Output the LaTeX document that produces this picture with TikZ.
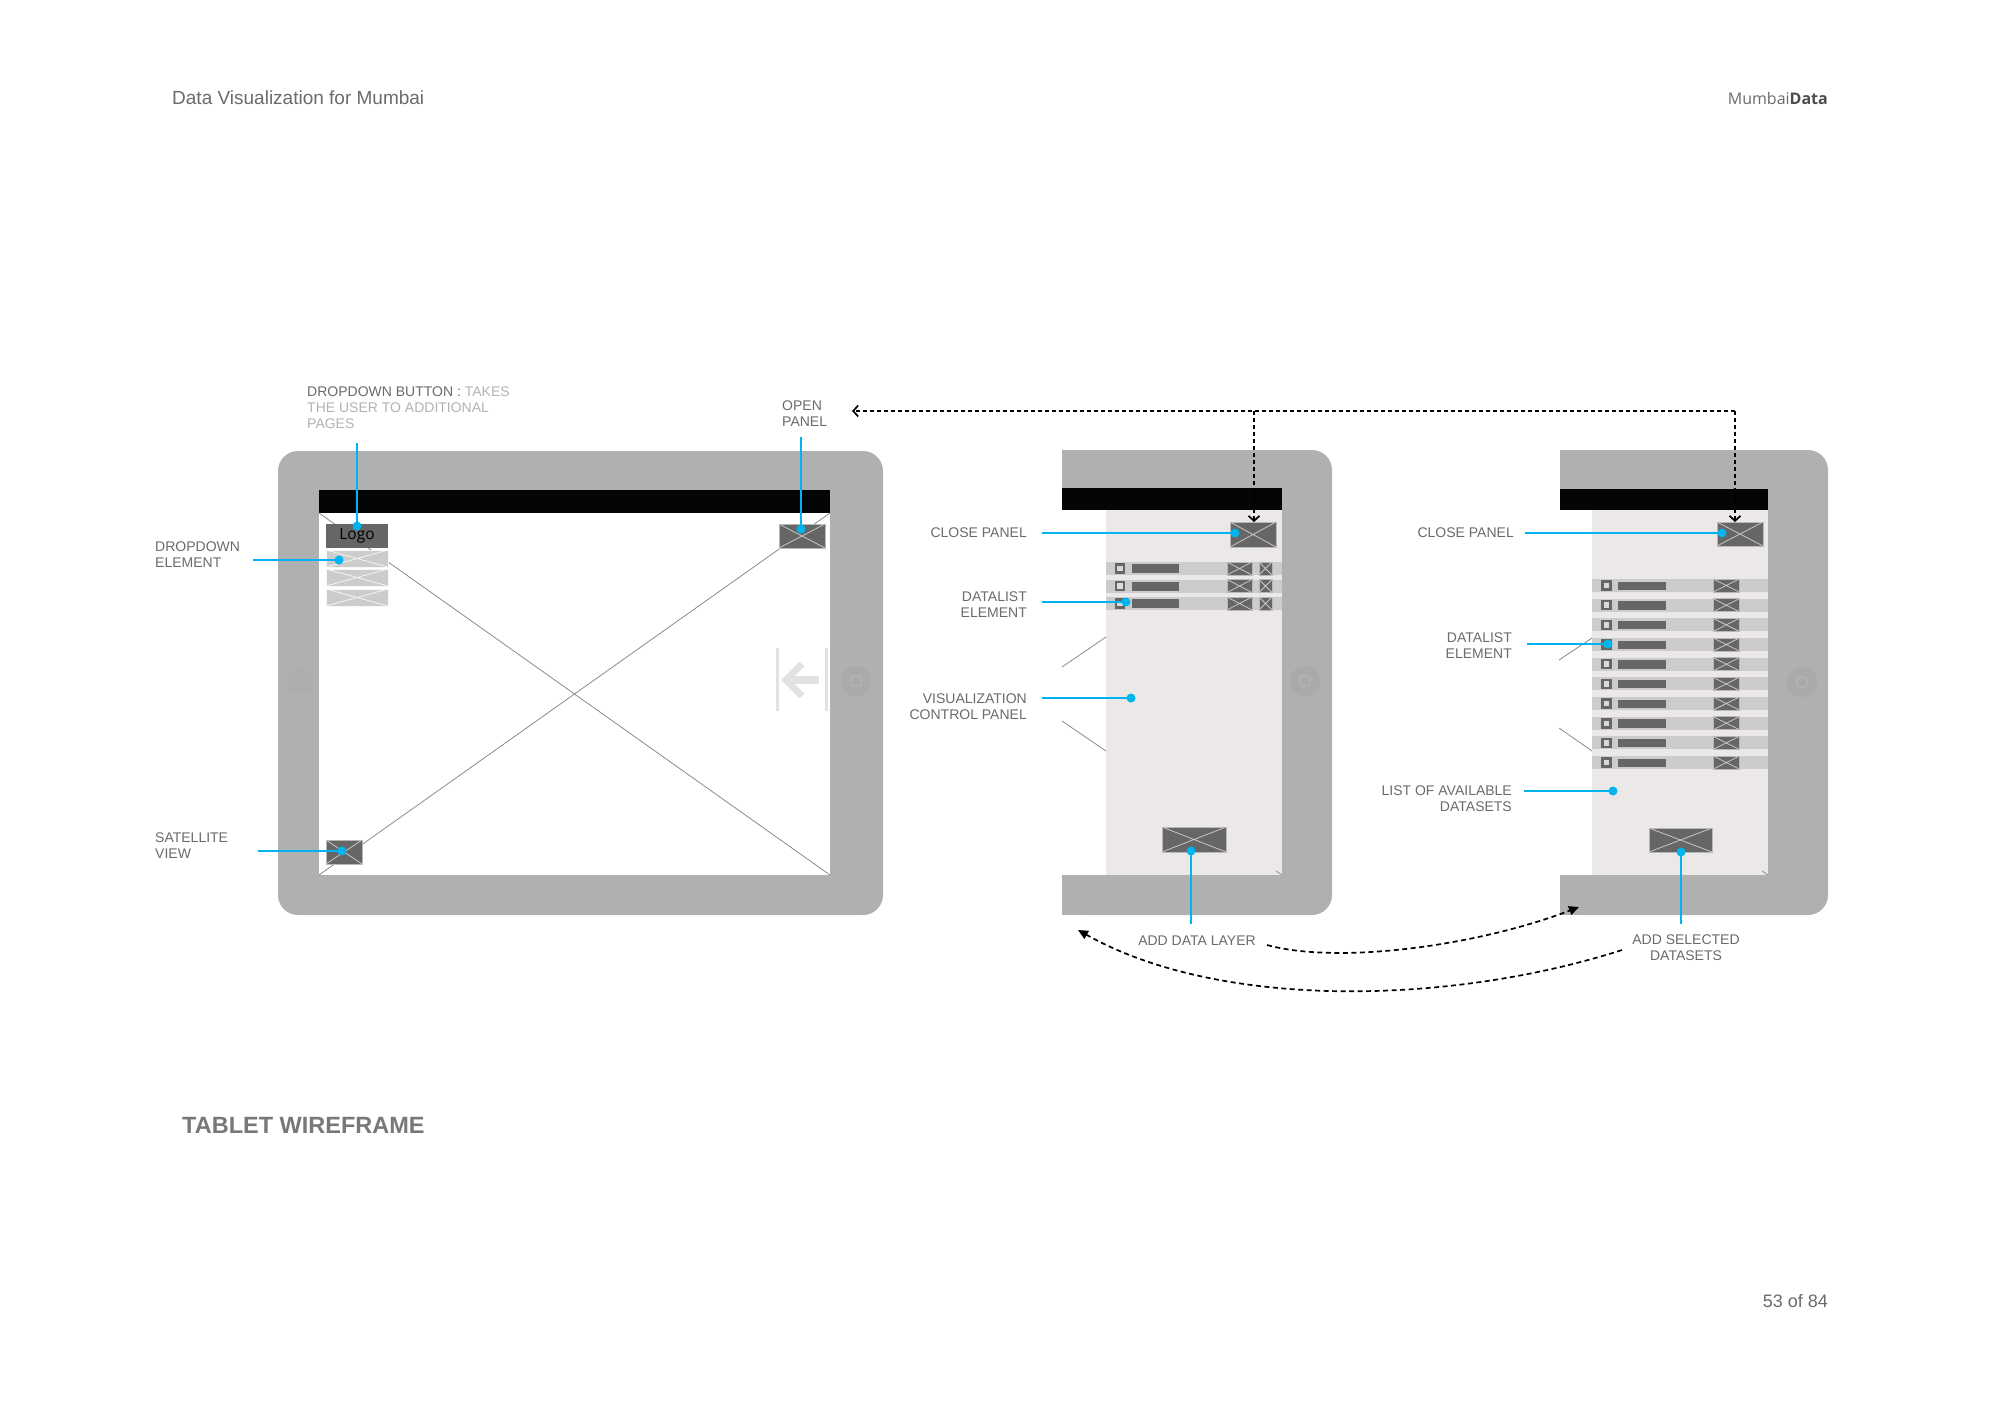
\documentclass[tikz,border=0pt]{standalone}
\usepackage{fontspec}
\setmainfont{Liberation Sans}
\newfontfamily\osans{Open Sans}
\usetikzlibrary{arrows.meta}
\definecolor{tabgray}{HTML}{B0B0B0}
\definecolor{barblack}{HTML}{050505}
\definecolor{panelc}{HTML}{EBE8E7}
\definecolor{rowgray}{HTML}{CCCCCC}
\definecolor{dkgray}{HTML}{666666}
\definecolor{wcyan}{HTML}{00B5EF}
\definecolor{txt}{HTML}{6B6B6B}
\definecolor{txtlight}{HTML}{B3B3B3}
\definecolor{ghost}{HTML}{E2E2E2}
\definecolor{xgray}{HTML}{8C8C8C}
\definecolor{ghostc}{HTML}{AAAAAA}
\definecolor{ghostl}{HTML}{ADADAD}
\definecolor{ghostsq}{HTML}{B9B9B9}
\definecolor{chkin}{HTML}{D9D9D9}
\tikzset{
  lbl/.style={font=\fontsize{14}{16}\selectfont, text=txt, inner sep=0pt},
  callout/.style={draw=wcyan, line width=1.8pt},
  cdot/.style={circle, fill=wcyan, inner sep=0pt, minimum size=9pt},
  xbtn/.style={rectangle, inner sep=0pt, outer sep=0pt, fill=dkgray, draw=black!28, line width=0.6pt,
    path picture={\draw[black!22, line width=0.8pt] (path picture bounding box.north west) -- (path picture bounding box.south east) (path picture bounding box.south west) -- (path picture bounding box.north east);}},
  lxbtn/.style={rectangle, inner sep=0pt, outer sep=0pt, fill=rowgray, draw=white!85!rowgray, line width=0.6pt,
    path picture={\draw[white!80!rowgray, line width=0.8pt] (path picture bounding box.north west) -- (path picture bounding box.south east) (path picture bounding box.south west) -- (path picture bounding box.north east);}},
  chk/.style={rectangle, inner sep=0pt, minimum size=8pt, fill=chkin, draw=dkgray, line width=2.6pt},
  dconn/.style={draw=black, line width=1.7pt, dash pattern=on 4pt off 3pt},
  dcurve/.style={draw=black, line width=1.7pt, dash pattern=on 5pt off 3.5pt},
  mapx/.style={draw=xgray, line width=0.8pt},
  homeb/.style={circle, fill=ghostc, inner sep=0pt, minimum size=30pt},
}
\begin{document}
\begin{tikzpicture}[x=1pt,y=-1pt]
\fill[white] (0,0) rectangle (2000,1414);
\useasboundingbox (0,0) rectangle (2000,1414);

% ---------- header / footer ----------
\node[anchor=base west, inner sep=0pt, font=\fontsize{19}{22}\selectfont, text=txt] (title) at (172,104) {Data Visualization for Mumbai};
\node[anchor=base east, inner sep=0pt, font=\osans\fontsize{16}{18}\selectfont, text=txt] (brand) at (1828,104) {Mumbai\textbf{\color{black!70}Data}};
\node[anchor=base west, inner sep=0pt, font=\bfseries\fontsize{23.5}{26}\selectfont, text=black!53] (caption) at (182,1133) {TABLET WIREFRAME};
\node[anchor=base east, inner sep=0pt, font=\fontsize{18}{20}\selectfont, text=txt] (pageno) at (1828,1307) {53 of 84};

% ---------- tablet 1 (landscape) ----------
\fill[tabgray, rounded corners=20pt] (278,451) rectangle (883,915);
\node[homeb] (home1) at (856,681) {};
\node[rectangle, draw=ghostsq, line width=1pt, minimum size=10pt, inner sep=0pt, rounded corners=1.5pt] (home1s) at (home1) {};
\node[homeb, fill=ghostl, minimum size=26pt] (home1l) at (300,681) {};
\fill[white] (319,513) rectangle (830,875);
\fill[barblack] (319,490) rectangle (830,513);
\draw[mapx] (319,513) -- (830,875) (830,513) -- (319,875);
% ghost open-panel icon
\draw[ghost, line width=3pt] (777,648) -- (777,711) (826,648) -- (826,711);
\draw[ghost, line width=8pt] (791,680) -- (819,680);
\draw[ghost, line width=7pt, line join=miter] (802,664) -- (786,680) -- (802,696);
% widgets
\node[rectangle, fill=dkgray, minimum width=62pt, minimum height=24pt, inner sep=0pt, font=\osans\fontsize{15.5}{15.5}\selectfont, text=black] (logo) at (357,536) {Logo};
\node[lxbtn, minimum width=62pt, minimum height=17pt] (dd1) at (357,558.5) {};
\node[lxbtn, minimum width=62pt, minimum height=17pt] (dd2) at (357,577.5) {};
\node[lxbtn, minimum width=62pt, minimum height=17pt] (dd3) at (357,597.5) {};
\node[xbtn, minimum width=46pt, minimum height=24pt] (openbtn) at (802,536) {};
\node[xbtn, minimum width=36pt, minimum height=24pt] (satbtn) at (344,852) {};

% labels tablet 1
\node[lbl, anchor=north west, align=left] (lDB) at (307,387) {DROPDOWN BUTTON : \textcolor{txtlight}{TAKES}\\\textcolor{txtlight}{THE USER TO ADDITIONAL}\\\textcolor{txtlight}{PAGES}};
\node[lbl, anchor=north west, align=left] (lDE) at (155,542) {DROPDOWN\\ELEMENT};
\node[lbl, anchor=north west, align=left] (lOP) at (782,401) {OPEN\\PANEL};
\node[lbl, anchor=north west, align=left] (lSV) at (155,833) {SATELLITE\\VIEW};

\coordinate (sDB) at (357,443); \node[cdot] (dDB) at (357,526) {};
\coordinate (sDE) at (253,560); \node[cdot] (dDE) at (339,560) {};
\coordinate (sOP) at (801,437); \node[cdot] (dOP) at (801,529) {};
\coordinate (sSV) at (258,851); \node[cdot] (dSV) at (342,851) {};
\draw[callout] (sDB) -- (dDB.center);
\draw[callout] (sDE) -- (dDE.center);
\draw[callout] (sOP) -- (dOP.center);
\draw[callout] (sSV) -- (dSV.center);

% ---------- tablet 2 ----------
\fill[tabgray, rounded corners=20pt] (1062,450) rectangle (1332,915);
\fill[tabgray] (1062,450) rectangle (1120,915);
\node[homeb] (home2) at (1305,681) {};
\node[rectangle, draw=ghostsq, line width=1pt, minimum size=10pt, inner sep=0pt, rounded corners=1.5pt] (home2s) at (home2) {};
\fill[white] (1062,510) rectangle (1106,875);
\fill[panelc] (1106,510) rectangle (1282,875);
\fill[barblack] (1062,488) rectangle (1282,510);
\draw[mapx] (1106,637) -- (1062,667) (1062,721) -- (1106,751) (1276,871) -- (1282,875);
\node[xbtn, minimum width=46pt, minimum height=25pt] (close2) at (1253,534.5) {};
\foreach \t [count=\i] in {562,579.5,597}{
  \fill[rowgray] (1106,\t) rectangle (1282,\t+13);
  \node[chk] (c2-\i) at (1120,\t+6.5) {};
  \fill[dkgray] (1132,\t+2) rectangle (1179,\t+11);
  \node[xbtn, minimum width=25pt, minimum height=13pt] (xa2-\i) at (1239.5,\t+6.5) {};
  \node[xbtn, minimum width=13pt, minimum height=13pt] (xb2-\i) at (1265.5,\t+6.5) {};
}
\node[xbtn, minimum width=64pt, minimum height=25pt] (add2) at (1194,839.5) {};

\node[lbl, anchor=east] (lCP2) at (1027,533) {CLOSE PANEL};
\node[lbl, anchor=north east, align=right] (lDL2) at (1027,592) {DATALIST\\ELEMENT};
\node[lbl, anchor=north east, align=right] (lVCP) at (1027,694) {VISUALIZATION\\CONTROL PANEL};
\node[lbl, anchor=north] (lADL) at (1197,936) {ADD DATA LAYER};

\coordinate (sCP2) at (1042,533); \node[cdot] (dCP2) at (1235,533) {};
\coordinate (sDL2) at (1042,602); \node[cdot] (dDL2) at (1126,602) {};
\coordinate (sVCP) at (1042,698); \node[cdot] (dVCP) at (1131,698) {};
\coordinate (sADL) at (1191,924); \node[cdot] (dADL) at (1191,851) {};
\draw[callout] (sCP2) -- (dCP2.center);
\draw[callout] (sDL2) -- (dDL2.center);
\draw[callout] (sVCP) -- (dVCP.center);
\draw[callout] (sADL) -- (dADL.center);

% ---------- tablet 3 ----------
\fill[tabgray, rounded corners=20pt] (1560,450) rectangle (1828,915);
\fill[tabgray] (1560,450) rectangle (1620,915);
\node[homeb] (home3) at (1802,682) {};
\node[rectangle, draw=ghostsq, line width=1pt, minimum size=10pt, inner sep=0pt, rounded corners=1.5pt] (home3s) at (home3) {};
\fill[white] (1560,510) rectangle (1592,875);
\fill[panelc] (1592,510) rectangle (1768,875);
\fill[barblack] (1560,489) rectangle (1768,510);
\draw[mapx] (1592,638) -- (1559,660) (1559,728) -- (1592,751) (1762,871) -- (1768,875);
\node[xbtn, minimum width=46pt, minimum height=24pt] (close3) at (1740,534) {};
\foreach \k in {0,...,9}{
  \pgfmathsetmacro{\t}{579+19.67*\k}
  \fill[rowgray] (1592,\t) rectangle (1768,\t+13);
  \node[chk] (c3-\k) at (1606.5,\t+6.5) {};
  \fill[dkgray] (1618,\t+2.5) rectangle (1666,\t+11);
  \node[xbtn, minimum width=26pt, minimum height=13pt] (xa3-\k) at (1726.3,\t+6.5) {};
}
\node[xbtn, minimum width=63pt, minimum height=24pt] (add3) at (1680.5,840) {};

\node[lbl, anchor=east] (lCP3) at (1514,533) {CLOSE PANEL};
\node[lbl, anchor=north east, align=right] (lDL3) at (1512,633) {DATALIST\\ELEMENT};
\node[lbl, anchor=north east, align=right] (lLAD) at (1512,786) {LIST OF AVAILABLE\\DATASETS};
\node[lbl, anchor=north, align=center] (lASD) at (1686,935) {ADD SELECTED\\DATASETS};

\coordinate (sCP3) at (1525,533); \node[cdot] (dCP3) at (1722,533) {};
\coordinate (sDL3) at (1527,644); \node[cdot] (dDL3) at (1608,644) {};
\coordinate (sLAD) at (1524,791); \node[cdot] (dLAD) at (1613,791) {};
\coordinate (sASD) at (1681,924); \node[cdot] (dASD) at (1681,852) {};
\draw[callout] (sCP3) -- (dCP3.center);
\draw[callout] (sDL3) -- (dDL3.center);
\draw[callout] (sLAD) -- (dLAD.center);
\draw[callout] (sASD) -- (dASD.center);

% ---------- dashed flow connectors ----------
\coordinate (j2) at (1254,411);
\coordinate (j3) at (1735,411);
\coordinate (openEnd) at (852,411);
\draw[dconn, -{Straight Barb[length=5pt,width=11pt]}] (j3) -- (openEnd);
\draw[dconn, -{Straight Barb[length=5pt,width=11pt]}] (j2) -- (j2 |- close2.north);
\draw[dconn, -{Straight Barb[length=5pt,width=11pt]}] (j3) -- (j3 |- close3.north);

\coordinate (c1s) at (1267,945);
\coordinate (c1e) at (1579,907);
\coordinate (c2s) at (1622,950);
\coordinate (c2e) at (1078,930);
\draw[dcurve, -{Triangle[length=10pt,width=9pt]}] (c1s) .. controls (1340,965) and (1480,945) .. (c1e);
\draw[dcurve, -{Triangle[length=10pt,width=9pt]}] (c2s) .. controls (1450,1005) and (1220,1010) .. (c2e);
\end{tikzpicture}
\end{document}
